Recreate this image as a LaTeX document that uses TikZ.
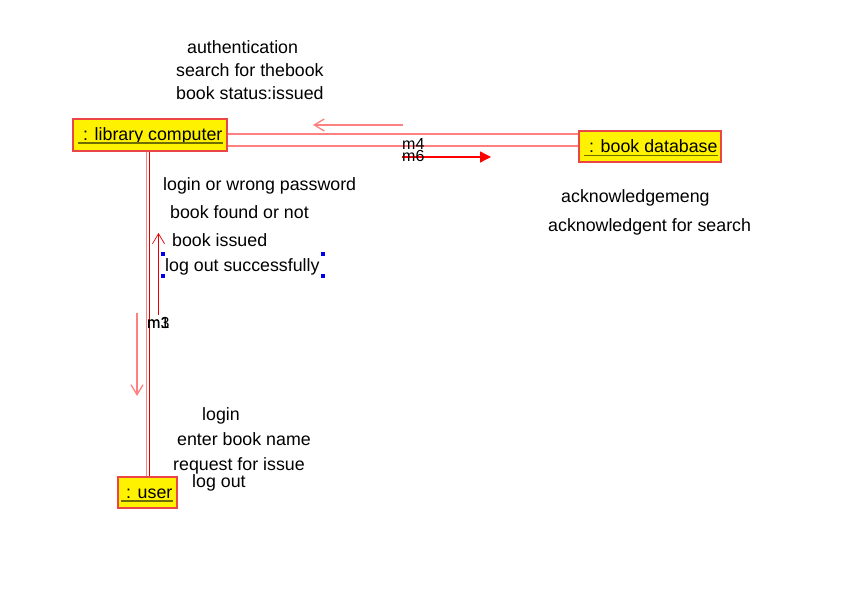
\documentclass[tikz,border=0pt]{standalone}
\usepackage{fontspec}
\setmainfont{Liberation Sans}
\usetikzlibrary{arrows.meta}
\definecolor{boxred}{RGB}{235,70,70}
\definecolor{pinkline}{RGB}{255,128,128}
\definecolor{ulcol}{RGB}{110,110,0}
\definecolor{handle}{RGB}{0,0,230}
\begin{document}
\begin{tikzpicture}[x=1pt,y=-1pt,
  obj/.style={draw=boxred,fill=yellow,line width=1.3pt,inner sep=0pt},
  objlbl/.style={anchor=base west,inner sep=0pt,font=\fontsize{17.8}{20}\selectfont},
  msg/.style={anchor=base west,inner sep=0pt,font=\fontsize{17.8}{20}\selectfont},
  mlbl/.style={anchor=base west,inner sep=0pt,font=\fontsize{16}{18}\selectfont},
  link/.style={draw=pinkline,line width=1.3pt},
  redlink/.style={draw=red!90!black,line width=0.9pt},
  barb/.style={-{Straight Barb[length=10pt,width=12pt]}},
  hdl/.style={fill=handle,draw=none,minimum size=3.5pt,inner sep=0pt}]
\useasboundingbox (0,0) rectangle (863,604);

% objects
\node[obj,minimum width=154pt,minimum height=32pt] (lib) at (150,135) {};
\node[obj,minimum width=142pt,minimum height=31pt] (db) at (650,146.5) {};
\node[obj,minimum width=59pt,minimum height=31pt] (usr) at (147.5,492.5) {};

\node[objlbl] (libl) at (83,140.5) {: library computer};
\node[objlbl] (dbl) at (589,153) {: book database};
\node[objlbl] (usrl) at (126,498.5) {: user};
\foreach \n in {libl,dbl,usrl}
  \draw[ulcol,line width=1.2pt] ([xshift=-5pt,yshift=-2.5pt]\n.base west) -- ([yshift=-2.5pt]\n.base east);

% links
\coordinate (ya) at (0,134);
\coordinate (yb) at (0,146);
\draw[link] (lib.east |- ya) -- (db.west |- ya);
\draw[link] (lib.east |- yb) -- (db.west |- yb);
\coordinate (xa) at (146.5,0);
\coordinate (xb) at (149,0);
\draw[link] (lib.south -| xa) -- (usr.north -| xa);
\draw[redlink] (lib.south -| xb) -- (usr.north -| xb);

% message arrows
\coordinate (a1s) at (403,125);
\coordinate (a1e) at (313,125);
\draw[link,barb] (a1s) -- (a1e);
\coordinate (a2s) at (402,157);
\coordinate (a2e) at (491,157);
\draw[draw=red,line width=1.3pt,-{Triangle[length=11pt,width=11pt]}] (a2s) -- (a2e);
\coordinate (a3s) at (158.5,315);
\coordinate (a3e) at (158.5,233);
\draw[redlink,line width=0.7pt,barb] (a3s) -- (a3e);
\coordinate (a4s) at (137,313);
\coordinate (a4e) at (137,396);
\draw[link,barb] (a4s) -- (a4e);

% message labels
\node[msg] (t1) at (187,54) {authentication};
\node[msg] (t2) at (176,77) {search for thebook};
\node[msg] (t3) at (176,100) {book status:issued};
\node[msg] (t4) at (163,190.5) {login or wrong password};
\node[msg] (t5) at (170,218.5) {book found or not};
\node[msg] (t6) at (172,247) {book issued};
\node[msg] (t7) at (165,272) {log out successfully};
\node[msg] (t8) at (561,203) {acknowledgemeng};
\node[msg] (t9) at (548,232) {acknowledgent for search};
\node[msg] (t10) at (202,420) {login};
\node[msg] (t11) at (177,445.5) {enter book name};
\node[msg] (t12) at (173,470.5) {request for issue};
\node[msg] (t13) at (192,487) {log out};

\node[mlbl] (m4) at (402,149.5) {m4};
\node[mlbl] (m6) at (402,162) {m6};
\node[mlbl] (m1) at (147,329) {m1};
\node[mlbl] (m3) at (147,329) {m3};

% selection handles
\node[hdl] (h1) at (163,254) {};
\node[hdl] (h2) at (323,254) {};
\node[hdl] (h3) at (163,276) {};
\node[hdl] (h4) at (323,276) {};
\end{tikzpicture}
\end{document}
